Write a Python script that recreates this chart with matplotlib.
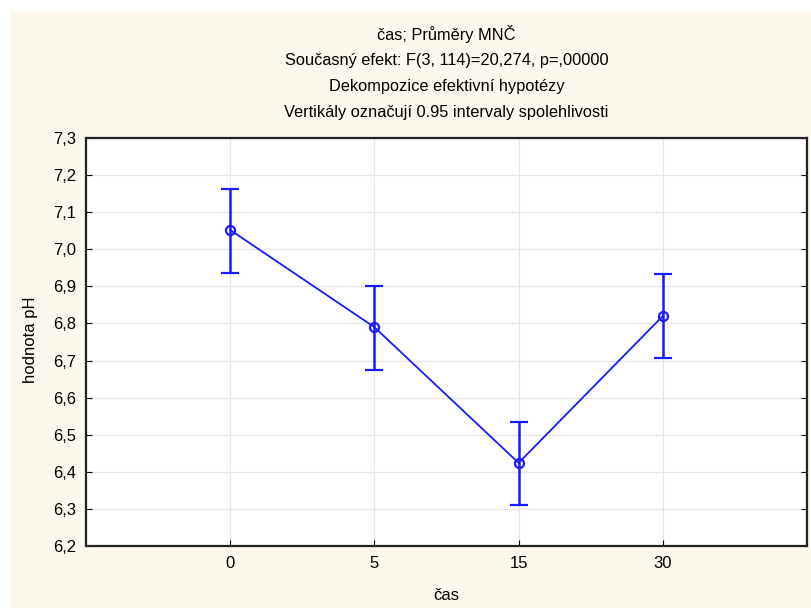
import matplotlib
matplotlib.use("Agg")
import matplotlib.pyplot as plt
from matplotlib.patches import Rectangle
from matplotlib.ticker import FuncFormatter

plt.rcParams['font.family'] = ['Liberation Sans', 'DejaVu Sans']

# data
categories = ["0", "5", "15", "30"]
means = [7.052, 6.790, 6.424, 6.820]
upper = [7.163, 6.901, 6.535, 6.933]
lower = [6.936, 6.675, 6.311, 6.707]
yticks = [6.2, 6.3, 6.4, 6.5, 6.6, 6.7, 6.8, 6.9, 7.0, 7.1, 7.2, 7.3]
title_lines = [
    "čas; Průměry MNČ",
    "Současný efekt: F(3, 114)=20,274, p=,00000",
    "Dekompozice efektivní hypotézy",
    "Vertikály označují 0.95 intervaly spolehlivosti",
]

cream = "#fdf8ee"
blue = "#1a1aff"

fig = plt.figure(figsize=(8.11, 6.08), dpi=100, facecolor="white")
# cream panel, white border at top and left
fig.patches.append(Rectangle((10 / 811, 0), 1, 1 - 11 / 608, transform=fig.transFigure,
                             facecolor=cream, edgecolor="none", zorder=-10))

ax = fig.add_axes([86 / 811, 62 / 608, 721 / 811, 408 / 608])
ax.set_facecolor("white")

x = list(range(1, len(categories) + 1))
err_lo = [m - l for m, l in zip(means, lower)]
err_hi = [u - m for m, u in zip(means, upper)]
ax.errorbar(x, means, yerr=[err_lo, err_hi], color=blue, lw=1.3, elinewidth=1.8,
            capsize=6.5, capthick=1.8, marker="o", markersize=6.5, mfc="none", mew=1.6, zorder=3)

ax.set_xlim(0, len(categories) + 1)
ax.set_ylim(6.2, 7.3)
ax.set_xticks(x)
ax.set_xticklabels(categories)
ax.set_yticks(yticks)
ax.yaxis.set_major_formatter(FuncFormatter(lambda v, p: f"{v:.1f}".replace(".", ",")))
ax.grid(True, color="#e6e6e6", lw=0.9)
ax.set_axisbelow(True)
ax.tick_params(direction="in", length=4, labelsize=12, colors="black", pad=7)
ax.tick_params(axis="y", right=True)
for s in ax.spines.values():
    s.set_linewidth(1.6)
    s.set_color("#222222")

fig.text(30 / 811, 1 - 340 / 608, "hodnota pH", rotation=90, ha="center", va="center", fontsize=12)
fig.text(446 / 811, 1 - 596 / 608, "čas", ha="center", va="center", fontsize=12)

ys = [34, 60, 87, 113]
for t, yy in zip(title_lines, ys):
    fig.text(0.5 * (86 + 807) / 811, 1 - yy / 608, t, ha="center", va="center", fontsize=11.8)

fig.savefig("out.png", dpi=100, facecolor=fig.get_facecolor())
